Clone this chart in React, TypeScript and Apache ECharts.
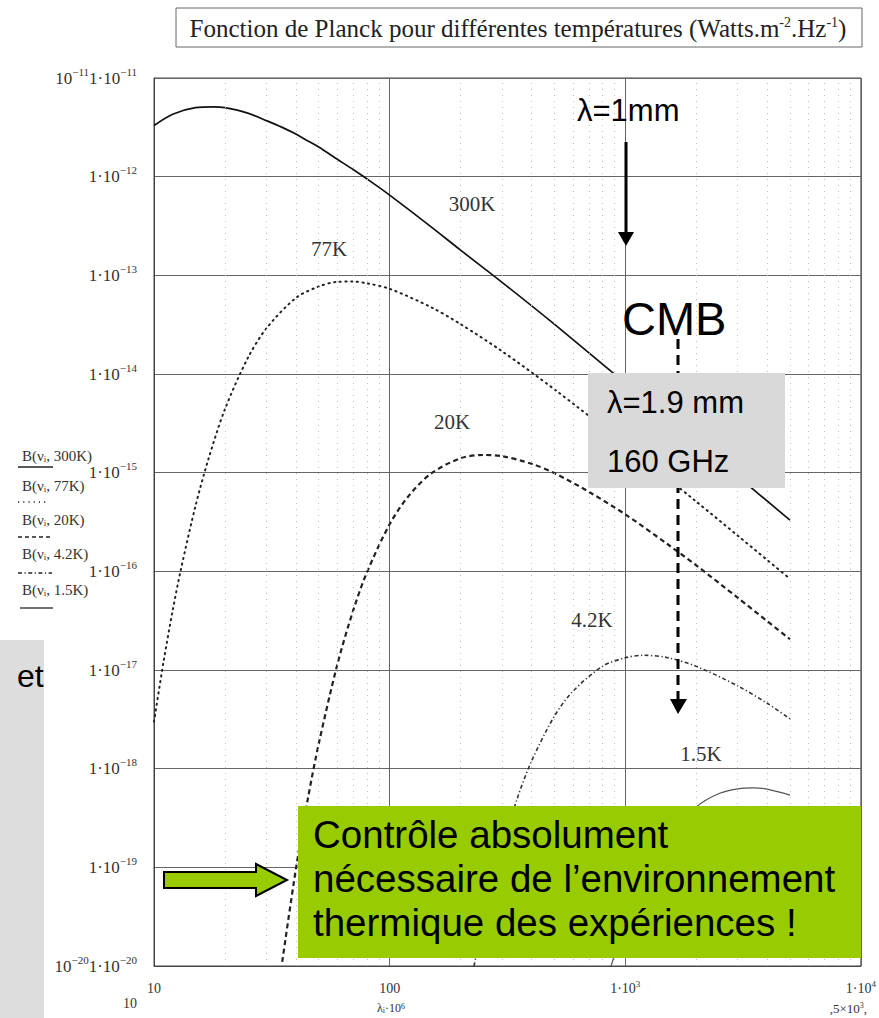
import React, { useEffect, useRef } from 'react';
import * as echarts from 'echarts';

// ---- Data (wavelength in micrometres, B in W.m-2.Hz-1) ----
const lam300 = [10, 12, 15, 18, 20, 25, 30, 35, 40, 45, 50, 60, 70, 85, 100, 150, 200, 300, 500, 1000, 2000, 3000, 5000];
const b300 = [3.3e-12, 4.3e-12, 5.0e-12, 5.1e-12, 5.0e-12, 4.4e-12, 3.7e-12, 3.16e-12, 2.7e-12, 2.3e-12, 2.0e-12, 1.5e-12, 1.18e-12, 8.6e-13, 6.5e-13, 3.1e-13, 1.8e-13, 8.5e-14, 3.2e-14, 8.1e-15, 2.1e-15, 9.2e-16, 3.3e-16];

const lam77 = [10, 11, 12, 13, 15, 17, 20, 25, 30, 40, 50, 60, 70, 80, 100, 150, 200, 300, 500, 1000, 2000, 3000, 5000];
const b77 = [3.0e-18, 1.25e-17, 4.0e-17, 1.04e-16, 4.6e-16, 1.36e-15, 4.4e-15, 1.45e-14, 2.9e-14, 5.9e-14, 7.7e-14, 8.6e-14, 8.65e-14, 8.3e-14, 7.3e-14, 4.75e-14, 3.2e-14, 1.7e-14, 7.0e-15, 1.93e-15, 5.1e-16, 2.3e-16, 8.4e-17];

const lam20 = [35, 40, 45, 50, 60, 70, 80, 100, 120, 150, 200, 250, 300, 400, 500, 700, 1000, 1500, 2000, 3000, 5000];
const b20 = [1.1e-20, 9.6e-20, 5.0e-19, 1.78e-18, 1.14e-17, 4.0e-17, 9.7e-17, 3.0e-16, 5.75e-16, 9.8e-16, 1.4e-15, 1.51e-15, 1.47e-15, 1.23e-15, 9.9e-16, 6.4e-16, 3.78e-16, 1.91e-16, 1.15e-16, 5.4e-17, 2.05e-17];

const lam42 = [228, 250, 300, 350, 400, 500, 600, 800, 1000, 1200, 1500, 2000, 3000, 4000, 5000];
const b42 = [1.0e-20, 2.85e-20, 1.6e-19, 5.2e-19, 1.19e-18, 3.4e-18, 6.1e-18, 1.09e-17, 1.33e-17, 1.41e-17, 1.34e-17, 1.09e-17, 6.9e-18, 4.6e-18, 3.2e-18];

const lam15 = [870, 1000, 1200, 1500, 2000, 2500, 3000, 3500, 4000, 5000];
const b15 = [1.0e-20, 2.7e-20, 7.8e-20, 2.0e-19, 4.1e-19, 5.6e-19, 6.25e-19, 6.4e-19, 6.2e-19, 5.4e-19];

const curveNames = ['B(ν,300K)', 'B(ν,77K)', 'B(ν,20K)', 'B(ν,4.2K)', 'B(ν,1.5K)'];
const curveLabels = ['300K', '77K', '20K', '4.2K', '1.5K'];

const minorMantissas = [2, 3, 4, 5, 6, 7, 8, 9];
const xDecades = [10, 100, 1000];
const yDecades = [1e-20, 1e-19, 1e-18, 1e-17, 1e-16, 1e-15, 1e-14, 1e-13, 1e-12];

const SERIF = "'Liberation Serif', 'Times New Roman', serif";
const SANS = "'Liberation Sans', Arial, sans-serif";

const zip = (xs: number[], ys: number[]) => xs.map((x, i) => [x, ys[i]]);

export default function App() {
  const ref = useRef<HTMLDivElement>(null);

  useEffect(() => {
    if (!ref.current) return;
    const chart = echarts.init(ref.current, undefined, { renderer: 'svg' });

    const minorX: number[] = [];
    xDecades.forEach((d) => minorMantissas.forEach((m) => minorX.push(m * d)));
    const minorY: number[] = [];
    yDecades.forEach((d) => minorMantissas.forEach((m) => minorY.push(m * d)));

    const lineBase = { type: 'line' as const, showSymbol: false, smooth: 0.3, z: 3, clip: true };

    const elements: any[] = [
      // title box
      { type: 'rect', shape: { x: 176, y: 8, width: 686, height: 39 }, style: { fill: '#fff', stroke: '#666', lineWidth: 1 } },
      {
        type: 'text', x: 518, y: 28,
        style: {
          text: 'Fonction de Planck pour différentes températures (Watts.m{s|-2}.Hz{s|-1})',
          fontFamily: SERIF, fontSize: 25, fill: '#222', align: 'center', verticalAlign: 'middle',
          rich: { s: { fontFamily: SERIF, fontSize: 14, fill: '#222', verticalAlign: 'top' } },
        },
      },
      // legend (Mathcad style)
      ...[456, 486, 520, 554, 590].map((y, i) => ({
        type: 'text', x: 22, y,
        style: {
          text: 'B(ν{i|i}, ' + curveLabels[i] + ')',
          fontFamily: SERIF, fontSize: 15, fill: '#333', align: 'left', verticalAlign: 'middle',
          rich: { i: { fontFamily: SERIF, fontSize: 9, fill: '#333', verticalAlign: 'bottom' } },
        },
      })),
      { type: 'line', shape: { x1: 18, y1: 467, x2: 53, y2: 467 }, style: { stroke: '#222', lineWidth: 1.5 } },
      { type: 'line', shape: { x1: 18, y1: 502, x2: 48, y2: 502 }, style: { stroke: '#222', lineWidth: 1.5, lineDash: [1.2, 4] } },
      { type: 'line', shape: { x1: 18, y1: 537, x2: 50, y2: 537 }, style: { stroke: '#222', lineWidth: 1.5, lineDash: [4, 3] } },
      { type: 'line', shape: { x1: 18, y1: 573, x2: 52, y2: 573 }, style: { stroke: '#222', lineWidth: 1.5, lineDash: [4, 2.5, 1.2, 2.5] } },
      { type: 'line', shape: { x1: 20, y1: 608, x2: 53, y2: 608 }, style: { stroke: '#444', lineWidth: 1.3 } },
      // curve labels
      ...[[472, 204], [329, 249], [452, 422], [592, 620], [701, 754]].map(([x, y], i) => ({
        type: 'text', x, y,
        style: { text: curveLabels[i], fontFamily: SERIF, fontSize: 21, fill: '#333', align: 'center', verticalAlign: 'middle' },
      })),
      // second row of x labels + axis name
      { type: 'text', x: 130, y: 1003, style: { text: '10', fontFamily: SERIF, fontSize: 14, fill: '#333', align: 'center', verticalAlign: 'middle' } },
      {
        type: 'text', x: 391, y: 1008,
        style: {
          text: 'λ{i|i}·10{s|6}', fontFamily: SERIF, fontSize: 12, fill: '#333', align: 'center', verticalAlign: 'middle',
          rich: { i: { fontFamily: SERIF, fontSize: 8, fill: '#333', verticalAlign: 'bottom' }, s: { fontFamily: SERIF, fontSize: 8, fill: '#333', verticalAlign: 'top' } },
        },
      },
      {
        type: 'text', x: 867, y: 1008,
        style: {
          text: ',5×10{s|3},', fontFamily: SERIF, fontSize: 13, fill: '#333', align: 'right', verticalAlign: 'middle',
          rich: { s: { fontFamily: SERIF, fontSize: 8, fill: '#333', verticalAlign: 'top' } },
        },
      },
      // lambda = 1 mm arrow
      { type: 'text', x: 577, y: 110, style: { text: 'λ=1mm', fontFamily: SANS, fontSize: 31, fill: '#000', align: 'left', verticalAlign: 'middle' } },
      { type: 'line', shape: { x1: 626, y1: 142, x2: 626, y2: 234 }, style: { stroke: '#000', lineWidth: 3 } },
      { type: 'polygon', shape: { points: [[618, 232], [634, 232], [626, 246]] }, style: { fill: '#000' } },
      // CMB dashed arrow
      { type: 'text', x: 622, y: 318, style: { text: 'CMB', fontFamily: SANS, fontSize: 47, fill: '#000', align: 'left', verticalAlign: 'middle' } },
      { type: 'line', shape: { x1: 678, y1: 339, x2: 678, y2: 701 }, style: { stroke: '#000', lineWidth: 3, lineDash: [10, 6] } },
      { type: 'polygon', shape: { points: [[670, 699], [687, 699], [678, 714]] }, style: { fill: '#000' } },
      { type: 'rect', shape: { x: 588, y: 373, width: 197, height: 115 }, style: { fill: '#d9d9d9' } },
      { type: 'text', x: 607, y: 402, style: { text: 'λ=1.9 mm', fontFamily: SANS, fontSize: 31, fill: '#000', align: 'left', verticalAlign: 'middle' } },
      { type: 'text', x: 607, y: 461, style: { text: '160 GHz', fontFamily: SANS, fontSize: 31, fill: '#000', align: 'left', verticalAlign: 'middle' } },
      // green box
      { type: 'rect', shape: { x: 298, y: 806, width: 563, height: 152 }, style: { fill: '#99cc00' } },
      { type: 'text', x: 313, y: 834, style: { text: 'Contrôle absolument', fontFamily: SANS, fontSize: 38.5, fill: '#000', align: 'left', verticalAlign: 'middle' } },
      { type: 'text', x: 313, y: 878, style: { text: 'nécessaire de l’environnement', fontFamily: SANS, fontSize: 38.5, fill: '#000', align: 'left', verticalAlign: 'middle' } },
      { type: 'text', x: 313, y: 922, style: { text: 'thermique des expériences !', fontFamily: SANS, fontSize: 38.5, fill: '#000', align: 'left', verticalAlign: 'middle' } },
      // green arrow
      {
        type: 'polygon',
        shape: { points: [[164, 872], [256, 872], [256, 864], [287, 880], [256, 896], [256, 888], [164, 888]] },
        style: { fill: '#99cc00', stroke: '#000', lineWidth: 2 },
      },
      // left grey box
      { type: 'rect', shape: { x: 0, y: 640, width: 44, height: 378 }, style: { fill: '#dddddd' } },
      { type: 'text', x: 17, y: 676, style: { text: 'et', fontFamily: SANS, fontSize: 32, fill: '#000', align: 'left', verticalAlign: 'middle' } },
    ];

    const option: any = {
      animation: false,
      backgroundColor: '#ffffff',
      grid: { left: 154, top: 78, width: 709, height: 888, show: true, borderColor: '#444', borderWidth: 1, backgroundColor: 'transparent' },
      xAxis: {
        type: 'log',
        logBase: 10,
        min: 10,
        max: 10000,
        splitNumber: 3,
        axisLine: { show: true, lineStyle: { color: '#444' } },
        axisTick: { show: false },
        splitLine: { show: true, lineStyle: { color: '#666', width: 1 } },
        axisLabel: {
          margin: 13,
          formatter: (v: number) => {
            const e = Math.round(Math.log10(v));
            if (e === 1) return '{m|10}';
            if (e === 2) return '{m|100}';
            return '{m|1·10}{s|' + e + '}';
          },
          rich: {
            m: { fontFamily: SERIF, fontSize: 14, color: '#333', lineHeight: 18 },
            s: { fontFamily: SERIF, fontSize: 9, color: '#333', verticalAlign: 'top' },
          },
        },
      },
      yAxis: {
        type: 'log',
        logBase: 10,
        min: 1e-20,
        max: 1e-11,
        splitNumber: 9,
        axisLine: { show: true, lineStyle: { color: '#444' } },
        axisTick: { show: false },
        splitLine: { show: true, lineStyle: { color: '#666', width: 1 } },
        axisLabel: {
          margin: 17,
          formatter: (v: number) => {
            const e = Math.round(Math.log10(v));
            const main = '{m|1·10}{s|−' + -e + '}';
            if (e === -11 || e === -20) return '{m|10}{s|−' + -e + '}' + main;
            return main;
          },
          rich: {
            m: { fontFamily: SERIF, fontSize: 17, color: '#333', lineHeight: 24 },
            s: { fontFamily: SERIF, fontSize: 11, color: '#333', verticalAlign: 'top' },
          },
        },
      },
      series: [
        {
          type: 'line',
          name: 'minor-grid',
          data: [],
          z: 1,
          markLine: {
            silent: true,
            symbol: ['none', 'none'],
            label: { show: false },
            lineStyle: { type: [1, 5], color: '#bdbdbd', width: 1 },
            animation: false,
            data: [...minorX.map((v) => ({ xAxis: v })), ...minorY.map((v) => ({ yAxis: v }))],
          },
        },
        { ...lineBase, name: curveNames[0], data: zip(lam300, b300), lineStyle: { color: '#111', width: 1.7, type: 'solid' } },
        { ...lineBase, name: curveNames[1], data: zip(lam77, b77), lineStyle: { color: '#222', width: 2, type: [1.2, 4.5], cap: 'round' } },
        { ...lineBase, name: curveNames[2], data: zip(lam20, b20), lineStyle: { color: '#222', width: 2.2, type: [5, 3.5] } },
        { ...lineBase, name: curveNames[3], data: zip(lam42, b42), lineStyle: { color: '#333', width: 1.6, type: [4, 2.5, 1.2, 2.5] } },
        { ...lineBase, name: curveNames[4], data: zip(lam15, b15), lineStyle: { color: '#555', width: 1.2, type: 'solid' } },
      ],
      graphic: {
        elements: elements.map((el) => ({ ...el, z: 100, silent: true })),
      },
    };

    chart.setOption(option);
    return () => chart.dispose();
  }, []);

  return <div ref={ref} style={{ position: 'absolute', left: 0, top: 0, width: 879, height: 1018, background: '#fff' }} />;
}
